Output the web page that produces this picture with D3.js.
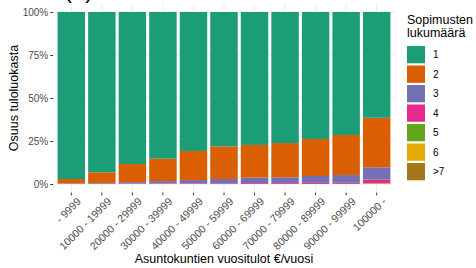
<!DOCTYPE html>
<html>
<head>
<meta charset="utf-8">
<script src="https://cdn.jsdelivr.net/npm/d3@7"></script>
<style>
  body { margin: 0; background: #fff; }
  text { font-family: "Liberation Sans", Arial, sans-serif; }
</style>
</head>
<body>
<div id="chart"></div>
<script>
// income classes
var categories = ["- 9999", "10000 - 19999", "20000 - 29999", "30000 - 39999", "40000 - 49999",
  "50000 - 59999", "60000 - 69999", "70000 - 79999", "80000 - 89999", "90000 - 99999", "100000 -"];

// number of contracts, share (%) per income class
var s1  = [97.1, 93.2, 88.4, 85.3, 80.8, 78.1, 77.3, 76.2, 73.8, 71.5, 61.5];
var s2  = [2.5, 6.2, 10.5, 13.0, 16.9, 19.0, 19.0, 19.9, 21.5, 23.3, 28.8];
var s3  = [0.3, 0.4, 0.8, 1.3, 1.9, 2.5, 3.2, 3.3, 4.0, 4.5, 7.2];
var s4  = [0.1, 0.2, 0.3, 0.3, 0.35, 0.4, 0.5, 0.5, 0.6, 0.6, 2.0];
var s5  = [0, 0, 0, 0.05, 0.05, 0, 0, 0.1, 0.05, 0.1, 0.2];
var s6  = [0, 0, 0, 0.05, 0, 0, 0, 0, 0, 0, 0.2];
var s7  = [0, 0, 0, 0, 0, 0, 0, 0, 0, 0, 0.1];

var seriesNames = ["1", "2", "3", "4", "5", "6", ">7"];
var seriesVals = [s1, s2, s3, s4, s5, s6, s7];
var colors = ["#1B9E77", "#D95F02", "#7570B3", "#E7298A", "#66A61E", "#E6AB02", "#A6761D"];
var yTicks = [0, 0.25, 0.5, 0.75, 1];
var yMinor = [0.125, 0.375, 0.625, 0.875];

var W = 476, H = 268;
var panel = { left: 53, right: 395, top: 3.4, bottom: 192.6 };

var table = categories.map(function (c, i) {
  var row = { cat: c };
  seriesNames.forEach(function (s, j) { row[s] = seriesVals[j][i]; });
  return row;
});

var svg = d3.select("#chart").append("svg")
  .attr("width", W).attr("height", H);

var x = d3.scaleBand()
  .domain(categories)
  .range([panel.left, panel.right])
  .paddingInner(0.1)
  .paddingOuter(0.15);

var y = d3.scaleLinear()
  .domain([-0.05, 1.05])
  .range([panel.bottom, panel.top]);

var color = d3.scaleOrdinal().domain(seriesNames).range(colors);

// grid
svg.append("g").selectAll("line.minor")
  .data(yMinor).enter().append("line")
  .attr("x1", panel.left).attr("x2", panel.right)
  .attr("y1", function (d) { return y(d); }).attr("y2", function (d) { return y(d); })
  .attr("stroke", "#ebebeb").attr("stroke-width", 0.5);
svg.append("g").selectAll("line.major")
  .data(yTicks).enter().append("line")
  .attr("x1", panel.left).attr("x2", panel.right)
  .attr("y1", function (d) { return y(d); }).attr("y2", function (d) { return y(d); })
  .attr("stroke", "#ebebeb").attr("stroke-width", 1);
svg.append("g").selectAll("line.vx")
  .data(categories).enter().append("line")
  .attr("x1", function (d) { return x(d) + x.bandwidth() / 2; })
  .attr("x2", function (d) { return x(d) + x.bandwidth() / 2; })
  .attr("y1", panel.top).attr("y2", panel.bottom)
  .attr("stroke", "#ebebeb").attr("stroke-width", 1);

// stacked, normalised to 100 %; "1" on top
var stack = d3.stack()
  .keys(seriesNames.slice().reverse())
  .offset(d3.stackOffsetExpand);
var layers = stack(table);

svg.append("g").selectAll("g")
  .data(layers).enter().append("g")
  .attr("fill", function (d) { return color(d.key); })
  .selectAll("rect")
  .data(function (d) { return d; }).enter().append("rect")
  .attr("x", function (d) { return x(d.data.cat); })
  .attr("width", x.bandwidth())
  .attr("y", function (d) { return y(d[1]); })
  .attr("height", function (d) { return y(d[0]) - y(d[1]); });

// y axis
var gy = svg.append("g")
  .attr("transform", "translate(" + panel.left + ",0)")
  .call(d3.axisLeft(y).tickValues(yTicks).tickSize(2.75).tickPadding(2)
    .tickFormat(function (d) { return Math.round(d * 100) + "%"; }));
gy.select(".domain").remove();
gy.selectAll("line").attr("stroke", "#333");
gy.selectAll("text").attr("fill", "#4d4d4d").style("font-size", "10px")
  .style("font-family", "Liberation Sans, Arial, sans-serif");

// x axis
var gx = svg.append("g")
  .attr("transform", "translate(0," + panel.bottom + ")")
  .call(d3.axisBottom(x).tickSize(2.75).tickPadding(2));
gx.select(".domain").remove();
gx.selectAll("line").attr("stroke", "#333");
gx.selectAll("text")
  .attr("fill", "#4d4d4d").style("font-size", "10.6px")
  .style("font-family", "Liberation Sans, Arial, sans-serif")
  .attr("text-anchor", "end")
  .attr("x", 0.5).attr("y", 6.5).attr("dy", "0.71em")
  .attr("transform", "rotate(-45)");

// axis titles
svg.append("text")
  .attr("x", (panel.left + panel.right) / 2).attr("y", 263)
  .attr("text-anchor", "middle").attr("fill", "#000")
  .style("font-size", "12.5px")
  .text("Asuntokuntien vuositulot €/vuosi");
svg.append("text")
  .attr("transform", "translate(18," + (panel.top + panel.bottom) / 2 + ") rotate(-90)")
  .attr("text-anchor", "middle").attr("fill", "#000")
  .style("font-size", "12.5px")
  .text("Osuus tuloluokasta");

// title, mostly outside the picture
svg.append("text")
  .attr("x", 64).attr("y", -2)
  .attr("fill", "#000").style("font-size", "24px")
  .text("(a) Kaikki asuntokunnat");

// legend
var lg = svg.append("g").attr("transform", "translate(407,0)");
lg.append("text").attr("x", 0).attr("y", 24).style("font-size", "12.5px").text("Sopimusten");
lg.append("text").attr("x", 0).attr("y", 37).style("font-size", "12.5px").text("lukumäärä");
var items = lg.selectAll("g.item").data(seriesNames).enter().append("g")
  .attr("transform", function (d, i) { return "translate(0," + (46 + i * 19.5) + ")"; });
items.append("rect").attr("width", 18).attr("height", 17.3)
  .attr("fill", function (d) { return color(d); });
items.append("text").attr("x", 26).attr("y", 8.7).attr("dy", "0.35em")
  .style("font-size", "10px").attr("fill", "#000")
  .text(function (d) { return d; });
</script>
</body>
</html>
